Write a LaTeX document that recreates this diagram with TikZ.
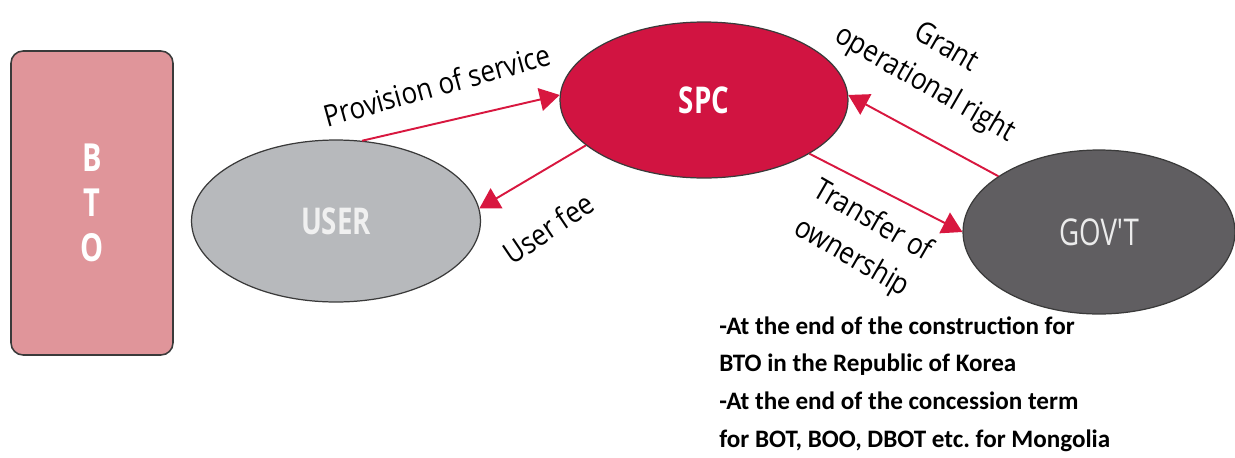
\documentclass[tikz,border=0pt]{standalone}
\usepackage{fontspec}
\setmainfont{Open Sans}
\newfontfamily\nodefont[FakeStretch=0.75]{Open Sans}
\newfontfamily\labelfont[FakeStretch=0.87]{Open Sans}
\newfontfamily\notefont{Carlito}
\usetikzlibrary{arrows.meta, positioning, shapes.geometric}

\definecolor{spcred}{HTML}{D11441}
\definecolor{arrowred}{HTML}{D8173F}
\definecolor{usergrey}{HTML}{B7B9BC}
\definecolor{govgrey}{HTML}{605E61}
\definecolor{btopink}{HTML}{E0959A}
\definecolor{rimgrey}{HTML}{3A3A3A}

\begin{document}
\frenchspacing
\begin{tikzpicture}[
		x=0.02cm, y=-0.02cm,
		arrow/.style={-{Triangle[length=4mm, width=4.6mm]}, line width=1.1pt, arrowred},
		party/.style={ellipse, draw=rimgrey, line width=0.7pt, inner sep=0pt,
			font=\nodefont\fontsize{21}{24}\selectfont},
		lbl/.style={font=\labelfont\fontsize{17}{24}\selectfont, align=center, inner sep=1pt}
		]
		\useasboundingbox (0,0) rectangle (1235,457);
		
		% Nodes
		\node[draw=rimgrey, line width=0.9pt, fill=btopink, rounded corners=0.24cm,
			minimum width=3.24cm, minimum height=6.08cm, align=center, text=white,
			font=\nodefont\bfseries\fontsize{22}{25.6}\selectfont] (bto) at (92, 203) {B\\T\\O};
		\node[party, fill=spcred, text=white, font=\nodefont\bfseries\fontsize{21}{24}\selectfont,
			minimum width=5.76cm, minimum height=3.12cm] (spc) at (704, 100) {SPC};
		\node[party, fill=usergrey, text=white!94!black, font=\nodefont\bfseries\fontsize{21}{24}\selectfont,
			minimum width=5.78cm, minimum height=3.24cm] (user) at (336, 221) {USER};
		\node[party, fill=govgrey, text=white!92!black,
			minimum width=5.44cm, minimum height=3.28cm] (gov) at (1099, 232) {GOV'T};
		
		% Flows
		\draw[arrow] (user.72) -- (spc.178);
		\draw[arrow] (spc.201) -- (user.5);
		\draw[arrow] (gov.151) -- (spc.2);
		\draw[arrow] (spc.333) -- (gov.180);
		
		% Labels
		\node[lbl, rotate=15.5] (provlbl) at (437, 85) {Provision of service};
		\node[lbl, rotate=34] (feelbl) at (548, 228) {User fee};
		\node[lbl, rotate=-30] (grantlbl) at (935, 67) {Grant\\operational right};
		\node[lbl, rotate=-30] (translbl) at (862, 240) {Transfer of\\ownership};
		
		% Note
		\node[anchor=north west, align=left, inner sep=0pt,
			font=\notefont\bfseries\fontsize{14.3}{21.6}\selectfont] (note) at (719, 316)
			{-At the end of the construction for\\BTO in the Republic of Korea\\-At the end of the concession term\\for BOT, BOO, DBOT etc. for Mongolia};
		
	\end{tikzpicture}
\end{document}
